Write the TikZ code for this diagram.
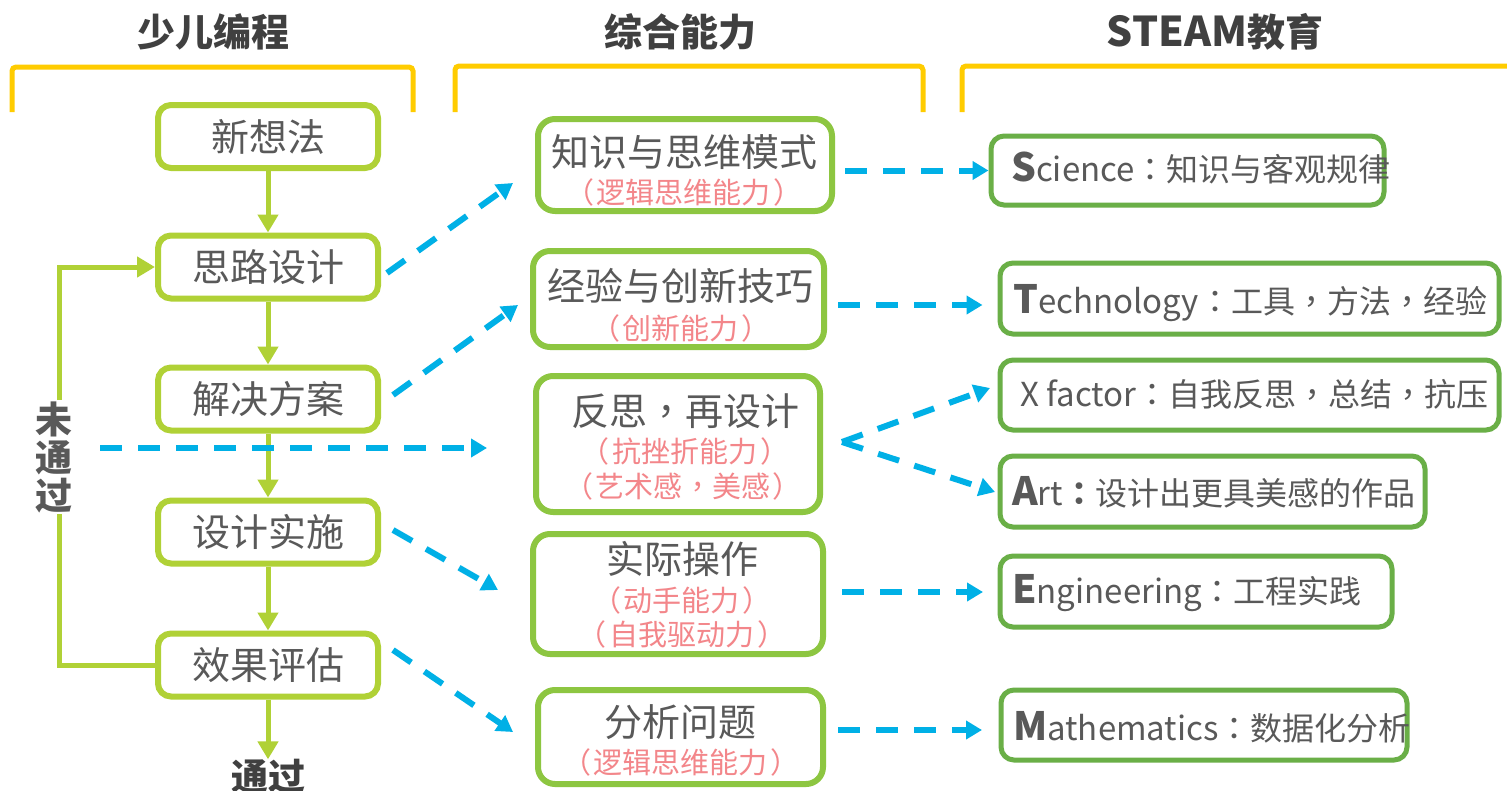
\documentclass[tikz,border=0pt]{standalone}
\usepackage{fontspec}
\setmainfont{Noto Sans CJK SC}
\newfontfamily\punc{Noto Sans CJK TC}
\usetikzlibrary{arrows.meta,calc}
\definecolor{lgreen}{HTML}{B0D136}
\definecolor{mgreen}{HTML}{8DC641}
\definecolor{rgreen}{HTML}{6AAF47}
\definecolor{cblue}{HTML}{00B0E6}
\definecolor{byellow}{HTML}{FFCC00}
\definecolor{pinktxt}{HTML}{F3868A}
\definecolor{txtgray}{HTML}{595959}
\definecolor{headgray}{HTML}{404040}
\newcommand\fsz[1]{\fontsize{#1}{#1}\selectfont}
\newcommand\capl[1]{{\fsz{39}\bfseries #1}}
\newcommand\latn[1]{{\fsz{33}#1}}
\newcommand\cm{{\punc ，}}
\newcommand\cl{{\punc ：}}
\newcommand\lp{（\kern3pt}
\newcommand\rp{\kern3pt）}
\tikzset{
  lbox/.style={draw=lgreen, line width=6pt, rounded corners=13pt, minimum width=220pt, minimum height=63pt, inner sep=0pt, text=txtgray, font=\fsz{38}},
  mbox/.style={draw=mgreen, line width=6pt, rounded corners=17pt, inner sep=0pt},
  rbox/.style={draw=rgreen, line width=5pt, rounded corners=13pt, inner sep=0pt},
  maintxt/.style={inner sep=0pt, text=txtgray, font=\fsz{38}},
  subtxt/.style={inner sep=0pt, text=pinktxt, font=\fsz{29}},
  rtxt/.style={inner sep=0pt, anchor=west, text=txtgray, font=\fsz{32}},
  headtxt/.style={inner sep=0pt, text=headgray, font=\bfseries\fsz{38}},
  flowarrow/.style={draw=lgreen, line width=5pt, -{Triangle[length=18pt,width=20pt]}},
  dasharrow/.style={draw=cblue, line width=6pt, dash pattern=on 22pt off 16pt, -{Triangle[length=16pt,width=18pt]}},
  bracket/.style={draw=byellow, line width=5pt, rounded corners=4pt},
}
\begin{document}
\begin{tikzpicture}[x=1pt,y=-1pt]
\useasboundingbox (0,0) rectangle (1507,790);
\fill[white] (0,0) rectangle (1507,790);

% headers
\node[headtxt] (h1) at (213,32) {少儿编程};
\node[headtxt] (h2) at (680,32) {综合能力};
\node[headtxt] (h3) at (1215,32) {{\fsz{41}STEAM}教育};

% brackets
\draw[bracket] (12,112) -- (12,67) -- (413,67) -- (413,112);
\draw[bracket] (455,112) -- (455,66) -- (923,66) -- (923,112);
\draw[bracket] (962,112) -- (962,66) -- (1530,66);

% left column
\node[lbox] (b1) at (268,136.5) {新想法};
\node[lbox] (b2) at (268,267) {思路设计};
\node[lbox] (b3) at (268,399) {解决方案};
\node[lbox] (b4) at (268,532) {设计实施};
\node[lbox] (b5) at (268,665) {效果评估};
\node[headtxt, font=\bfseries\fsz{37}] (tg) at (268,777) {通过};

\draw[flowarrow] (b1) -- (b2);
\draw[flowarrow] (b2) -- (b3);
\draw[flowarrow] (b3) -- (b4);
\draw[flowarrow] (b4) -- (b5);
\draw[flowarrow] (b5.south) -- (tg.north);
\draw[flowarrow] (b5.west) -- ++(-96,0) |- (b2.west);
\node[fill=white, inner sep=1pt, align=center, text=txtgray, font=\bfseries\fontsize{37}{38}\selectfont] (wt) at (54,457) {未\\通\\过};

% middle column
\node[mbox, minimum width=294pt, minimum height=92pt] (zs) at (685,165) {};
\node[maintxt] (zs1) at (684,152) {知识与思维模式};
\node[subtxt] (zs2) at (684,192) {\lp 逻辑思维能力\rp};

\node[mbox, minimum width=291pt, minimum height=96pt] (jy) at (678.5,299) {};
\node[maintxt] (jy1) at (680,286) {经验与创新技巧};
\node[subtxt] (jy2) at (681,328) {\lp 创新能力\rp};

\node[mbox, minimum width=284pt, minimum height=136pt] (fsb) at (678,444) {};
\node[maintxt] (fs1) at (685,411) {反思\cm 再设计};
\node[subtxt] (fs2) at (685,451) {\lp 抗挫折能力\rp};
\node[subtxt] (fs3) at (683,486) {\lp 艺术感\cm 美感\rp};

\node[mbox, minimum width=290pt, minimum height=120pt] (sj) at (678,594) {};
\node[maintxt] (sj1) at (682,559) {实际操作};
\node[subtxt] (sj2) at (682,600) {\lp 动手能力\rp};
\node[subtxt] (sj3) at (682,634) {\lp 自我驱动力\rp};

\node[mbox, minimum width=285pt, minimum height=94pt] (fx) at (680.5,737) {};
\node[maintxt] (fx1) at (680,722) {分析问题};
\node[subtxt] (fx2) at (681,762) {\lp 逻辑思维能力\rp};

% right column
\node[rbox, minimum width=393pt, minimum height=69pt] (sc) at (1187.5,170.5) {};
\node[rtxt] (sct) at (1011,168) {\capl{S}\latn{cience}\cl 知识与客观规律};
\node[rbox, minimum width=499pt, minimum height=71pt] (te) at (1249.5,298.5) {};
\node[rtxt] (tet) at (1013,303) {\capl{T}\latn{echnology}\cl 工具\cm 方法\cm 经验};
\node[rbox, minimum width=499pt, minimum height=70pt] (xf) at (1249.5,395) {};
\node[rtxt] (xft) at (1020,394) {\latn{X factor}\cl 自我反思\cm 总结\cm 抗压};
\node[rbox, minimum width=425pt, minimum height=71pt] (ar) at (1212.5,491.5) {};
\node[rtxt] (art) at (1012,492) {\capl{A}\latn{rt}{\bfseries\cl}设计出更具美感的作品};
\node[rbox, minimum width=392pt, minimum height=71pt] (en) at (1196,591.5) {};
\node[rtxt] (ent) at (1012,593) {\capl{E}\latn{ngineering}\cl 工程实践};
\node[rbox, minimum width=406pt, minimum height=70pt] (ma) at (1204,725) {};
\node[rtxt] (mat) at (1013,727) {\capl{M}\latn{athematics}\cl 数据化分析};

% dashed connectors
\coordinate (hs) at (100,448);
\draw[dasharrow, shorten >=46pt] (hs) -- (hs -| fsb.west);
\draw[dasharrow] ($(b2.east)+(6,6)$) -- ($(zs.south west)+(-22,-31)$);
\draw[dasharrow] ($(b3.east)+(12,-4)$) -- ($(jy.south west)+(-12,-45)$);
\draw[dasharrow] ($(b4.east)+(12,-2)$) -- ($(sj.west)+(-32,-4)$);
\draw[dasharrow] ($(b5.east)+(12,-15)$) -- ($(fx.west)+(-22,-5)$);
\draw[dasharrow] ($(zs.east|-sc.west)+(10,0)$) -- (sc.west);
\draw[dasharrow] ($(jy.east)+(11,6)$) -- ($(te.west)+(-15,6.5)$);
\draw[dasharrow] ($(fsb.east)+(19,-2)$) -- ($(xf.west)+(-7.5,-7)$);
\draw[dasharrow] ($(fsb.east)+(19,-2)$) -- ($(ar.west)+(-2.5,0.5)$);
\draw[dasharrow] ($(sj.east)+(16,-2)$) -- ($(en.west)+(-14.5,0.5)$);
\draw[dasharrow] ($(fx.east)+(12,-7)$) -- ($(ma.west)+(-16.5,5)$);
\end{tikzpicture}
\end{document}
